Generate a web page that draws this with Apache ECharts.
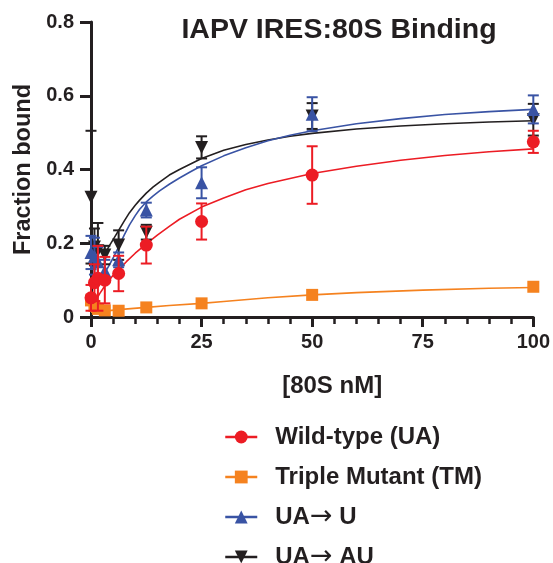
<!DOCTYPE html>
<html>
<head>
<meta charset="utf-8">
<script src="https://cdn.jsdelivr.net/npm/echarts@6/dist/echarts.min.js"></script>
<style>html,body{margin:0;padding:0;background:#fff}#c{width:553px;height:563px}</style>
</head>
<body>
<div id="c"></div>
<script>
// ---- data ----
const concentrations = [0, 0.78, 1.56, 3.125, 6.25, 12.5, 25, 50, 100];

const wtName = 'Wild-type (UA)';
const wtY   = [0.052, 0.093, 0.105, 0.100, 0.118, 0.195, 0.259, 0.385, 0.475];
const wtErr = [0.035, 0.050, 0.088, 0.063, 0.048, 0.050, 0.049, 0.078, 0.030];

const tmName = 'Triple Mutant (TM)';
const tmY   = [0.045, 0.030, 0.022, 0.018, 0.017, 0.026, 0.037, 0.060, 0.082];

const uName = 'UA\u2192 U';
const uY   = [0.175, 0.165, 0.150, 0.125, 0.155, 0.290, 0.364, 0.550, 0.563];
const uErr = [0.045, 0.050, 0.040, 0.030, 0.020, 0.020, 0.042, 0.046, 0.038];

const auName = 'UA\u2192 AU';
const auY   = [0.325, 0.190, 0.180, 0.168, 0.195, 0.230, 0.460, 0.545, 0.535];
const auErr = [0.180, 0.050, 0.075, 0.025, 0.040, 0.020, 0.030, 0.035, 0.043];

// fitted curves
const wtFitX = [0, 1, 2, 3, 4, 5, 6.25, 8, 10, 12.5, 15, 17.7, 20, 25, 30, 35, 40, 50, 60, 70, 80, 90, 100];
const wtFitY = [0.020, 0.043, 0.064, 0.082, 0.098, 0.113, 0.128, 0.150, 0.173, 0.198, 0.222, 0.246, 0.265, 0.298, 0.323, 0.345, 0.362, 0.389, 0.409, 0.425, 0.438, 0.448, 0.456];

const tmFitX = [0, 3, 6.25, 12.5, 17.7, 25, 30, 40, 50, 60, 75, 90, 100];
const tmFitY = [0.013, 0.016, 0.020, 0.026, 0.031, 0.037, 0.042, 0.052, 0.060, 0.066, 0.073, 0.078, 0.080];

const uFitX = [3.125, 4, 5, 6.25, 7.5, 8.7, 10, 11, 12.5, 14, 15.5, 17.7, 20, 22.5, 25, 30, 35, 40, 45, 50, 60, 70, 80, 90, 100];
const uFitY = [0.120, 0.138, 0.160, 0.190, 0.222, 0.250, 0.275, 0.292, 0.312, 0.328, 0.342, 0.360, 0.377, 0.394, 0.410, 0.437, 0.459, 0.478, 0.493, 0.505, 0.524, 0.538, 0.549, 0.557, 0.563];

const auFitX = [3.125, 4, 5, 6.25, 7.5, 8.7, 10, 11, 12.5, 14, 15.5, 17.7, 20, 22.5, 25, 30, 35, 40, 45, 50, 60, 70, 80, 90, 100];
const auFitY = [0.170, 0.190, 0.210, 0.235, 0.260, 0.283, 0.303, 0.317, 0.336, 0.352, 0.366, 0.385, 0.400, 0.415, 0.430, 0.452, 0.468, 0.480, 0.490, 0.498, 0.510, 0.518, 0.524, 0.529, 0.532];

const xTicks = [0, 25, 50, 75, 100];
const yTicks = [0, 0.2, 0.4, 0.6, 0.8];

// ---- styling ----
const C_WT = '#EC1C24', C_TM = '#F5821F', C_U = '#3953A4', C_AU = '#231F20';
const INK = '#231F20';
const FONT = '"Liberation Sans", Arial, Helvetica, sans-serif';
const downTri = 'path://M0,0 L10,0 L5,9 Z';

function zip(a, b) { return a.map((v, i) => [v, b[i]]); }

function fitSeries(name, xs, ys, color, symbol) {
  return {
    type: 'line', name, data: zip(xs, ys), smooth: false,
    showSymbol: false, symbol, symbolSize: 12,
    itemStyle: { color }, lineStyle: { color, width: 1.6 },
    emphasis: { disabled: true }, z: 2
  };
}
function pointSeries(name, ys, color, symbol, size, z) {
  return {
    type: 'scatter', name, data: zip(concentrations, ys), symbol, symbolSize: size,
    itemStyle: { color, opacity: 1 }, emphasis: { disabled: true }, z
  };
}
function errSeries(name, ys, errs, color, z) {
  return {
    type: 'custom', name, z,
    data: concentrations.map((x, i) => [x, ys[i] - errs[i], ys[i] + errs[i]]),
    renderItem(params, api) {
      const x = api.value(0);
      const lo = api.coord([x, api.value(1)]);
      const hi = api.coord([x, api.value(2)]);
      const w = 5.5;
      const style = { stroke: color, lineWidth: 2 };
      return { type: 'group', children: [
        { type: 'line', shape: { x1: lo[0], y1: lo[1], x2: hi[0], y2: hi[1] }, style },
        { type: 'line', shape: { x1: lo[0] - w, y1: lo[1], x2: lo[0] + w, y2: lo[1] }, style },
        { type: 'line', shape: { x1: hi[0] - w, y1: hi[1], x2: hi[0] + w, y2: hi[1] }, style }
      ]};
    }
  };
}

const chart = echarts.init(document.getElementById('c'), null, { renderer: 'canvas' });
chart.setOption({
  animation: false,
  backgroundColor: '#fff',
  title: {
    text: 'IAPV IRES:80S Binding', left: 334, top: 11, textAlign: 'center',
    textStyle: { fontFamily: FONT, fontWeight: 'bold', fontSize: 28.5, color: INK }
  },
  grid: { left: 91, right: 16, top: 22, bottom: 246, containLabel: false },
  xAxis: {
    type: 'value', min: xTicks[0], max: xTicks[xTicks.length - 1], interval: 25,
    name: '[80S nM]', nameLocation: 'middle', nameGap: 57,
    nameTextStyle: { fontFamily: FONT, fontWeight: 'bold', fontSize: 24, color: INK, padding: [0, 0, 0, 40] },
    axisLine: { lineStyle: { color: INK, width: 3 } },
    axisTick: { length: 10, lineStyle: { color: INK, width: 3 } },
    minorTick: { show: true, splitNumber: 5, length: 7, lineStyle: { color: INK, width: 2.5 } },
    splitLine: { show: false }, minorSplitLine: { show: false },
    axisLabel: { margin: 15, fontFamily: FONT, fontWeight: 'bold', fontSize: 20, color: INK }
  },
  yAxis: {
    type: 'value', min: yTicks[0], max: yTicks[yTicks.length - 1], interval: 0.2,
    name: 'Fraction bound', nameLocation: 'middle', nameGap: 54, nameRotate: 90,
    nameTextStyle: { fontFamily: FONT, fontWeight: 'bold', fontSize: 23.5, color: INK },
    axisLine: { show: true, lineStyle: { color: INK, width: 3 } },
    axisTick: { show: true, length: 11, lineStyle: { color: INK, width: 3 } },
    splitLine: { show: false },
    axisLabel: { margin: 17, fontFamily: FONT, fontWeight: 'bold', fontSize: 20, color: INK }
  },
  legend: {
    orient: 'vertical', left: 219, top: 418, height: 220,
    itemWidth: 32, itemHeight: 16, itemGap: 12,
    data: [wtName, tmName, uName, auName],
    selectedMode: false,
    lineStyle: { width: 2.5 },
    formatter: n => n.replace('\u2192', '{a|\u2192}'),
    textStyle: {
      fontFamily: FONT, fontWeight: 'bold', fontSize: 24, color: INK, padding: [0, 0, 0, 13], lineHeight: 28,
      rich: { a: { fontFamily: '"DejaVu Sans"', fontWeight: 'normal', fontSize: 27, color: INK, lineHeight: 28 } }
    }
  },
  series: [
    fitSeries(tmName, tmFitX, tmFitY, C_TM, 'rect'),
    pointSeries(tmName, tmY, C_TM, 'rect', 12, 3),
    fitSeries(auName, auFitX, auFitY, C_AU, downTri),
    errSeries(auName, auY, auErr, C_AU, 4),
    pointSeries(auName, auY, C_AU, downTri, 13, 4),
    fitSeries(uName, uFitX, uFitY, C_U, 'triangle'),
    errSeries(uName, uY, uErr, C_U, 5),
    pointSeries(uName, uY, C_U, 'triangle', 13, 5),
    fitSeries(wtName, wtFitX, wtFitY, C_WT, 'circle'),
    errSeries(wtName, wtY, wtErr, C_WT, 6),
    pointSeries(wtName, wtY, C_WT, 'circle', 13, 6)
  ]
});
</script>
</body>
</html>
